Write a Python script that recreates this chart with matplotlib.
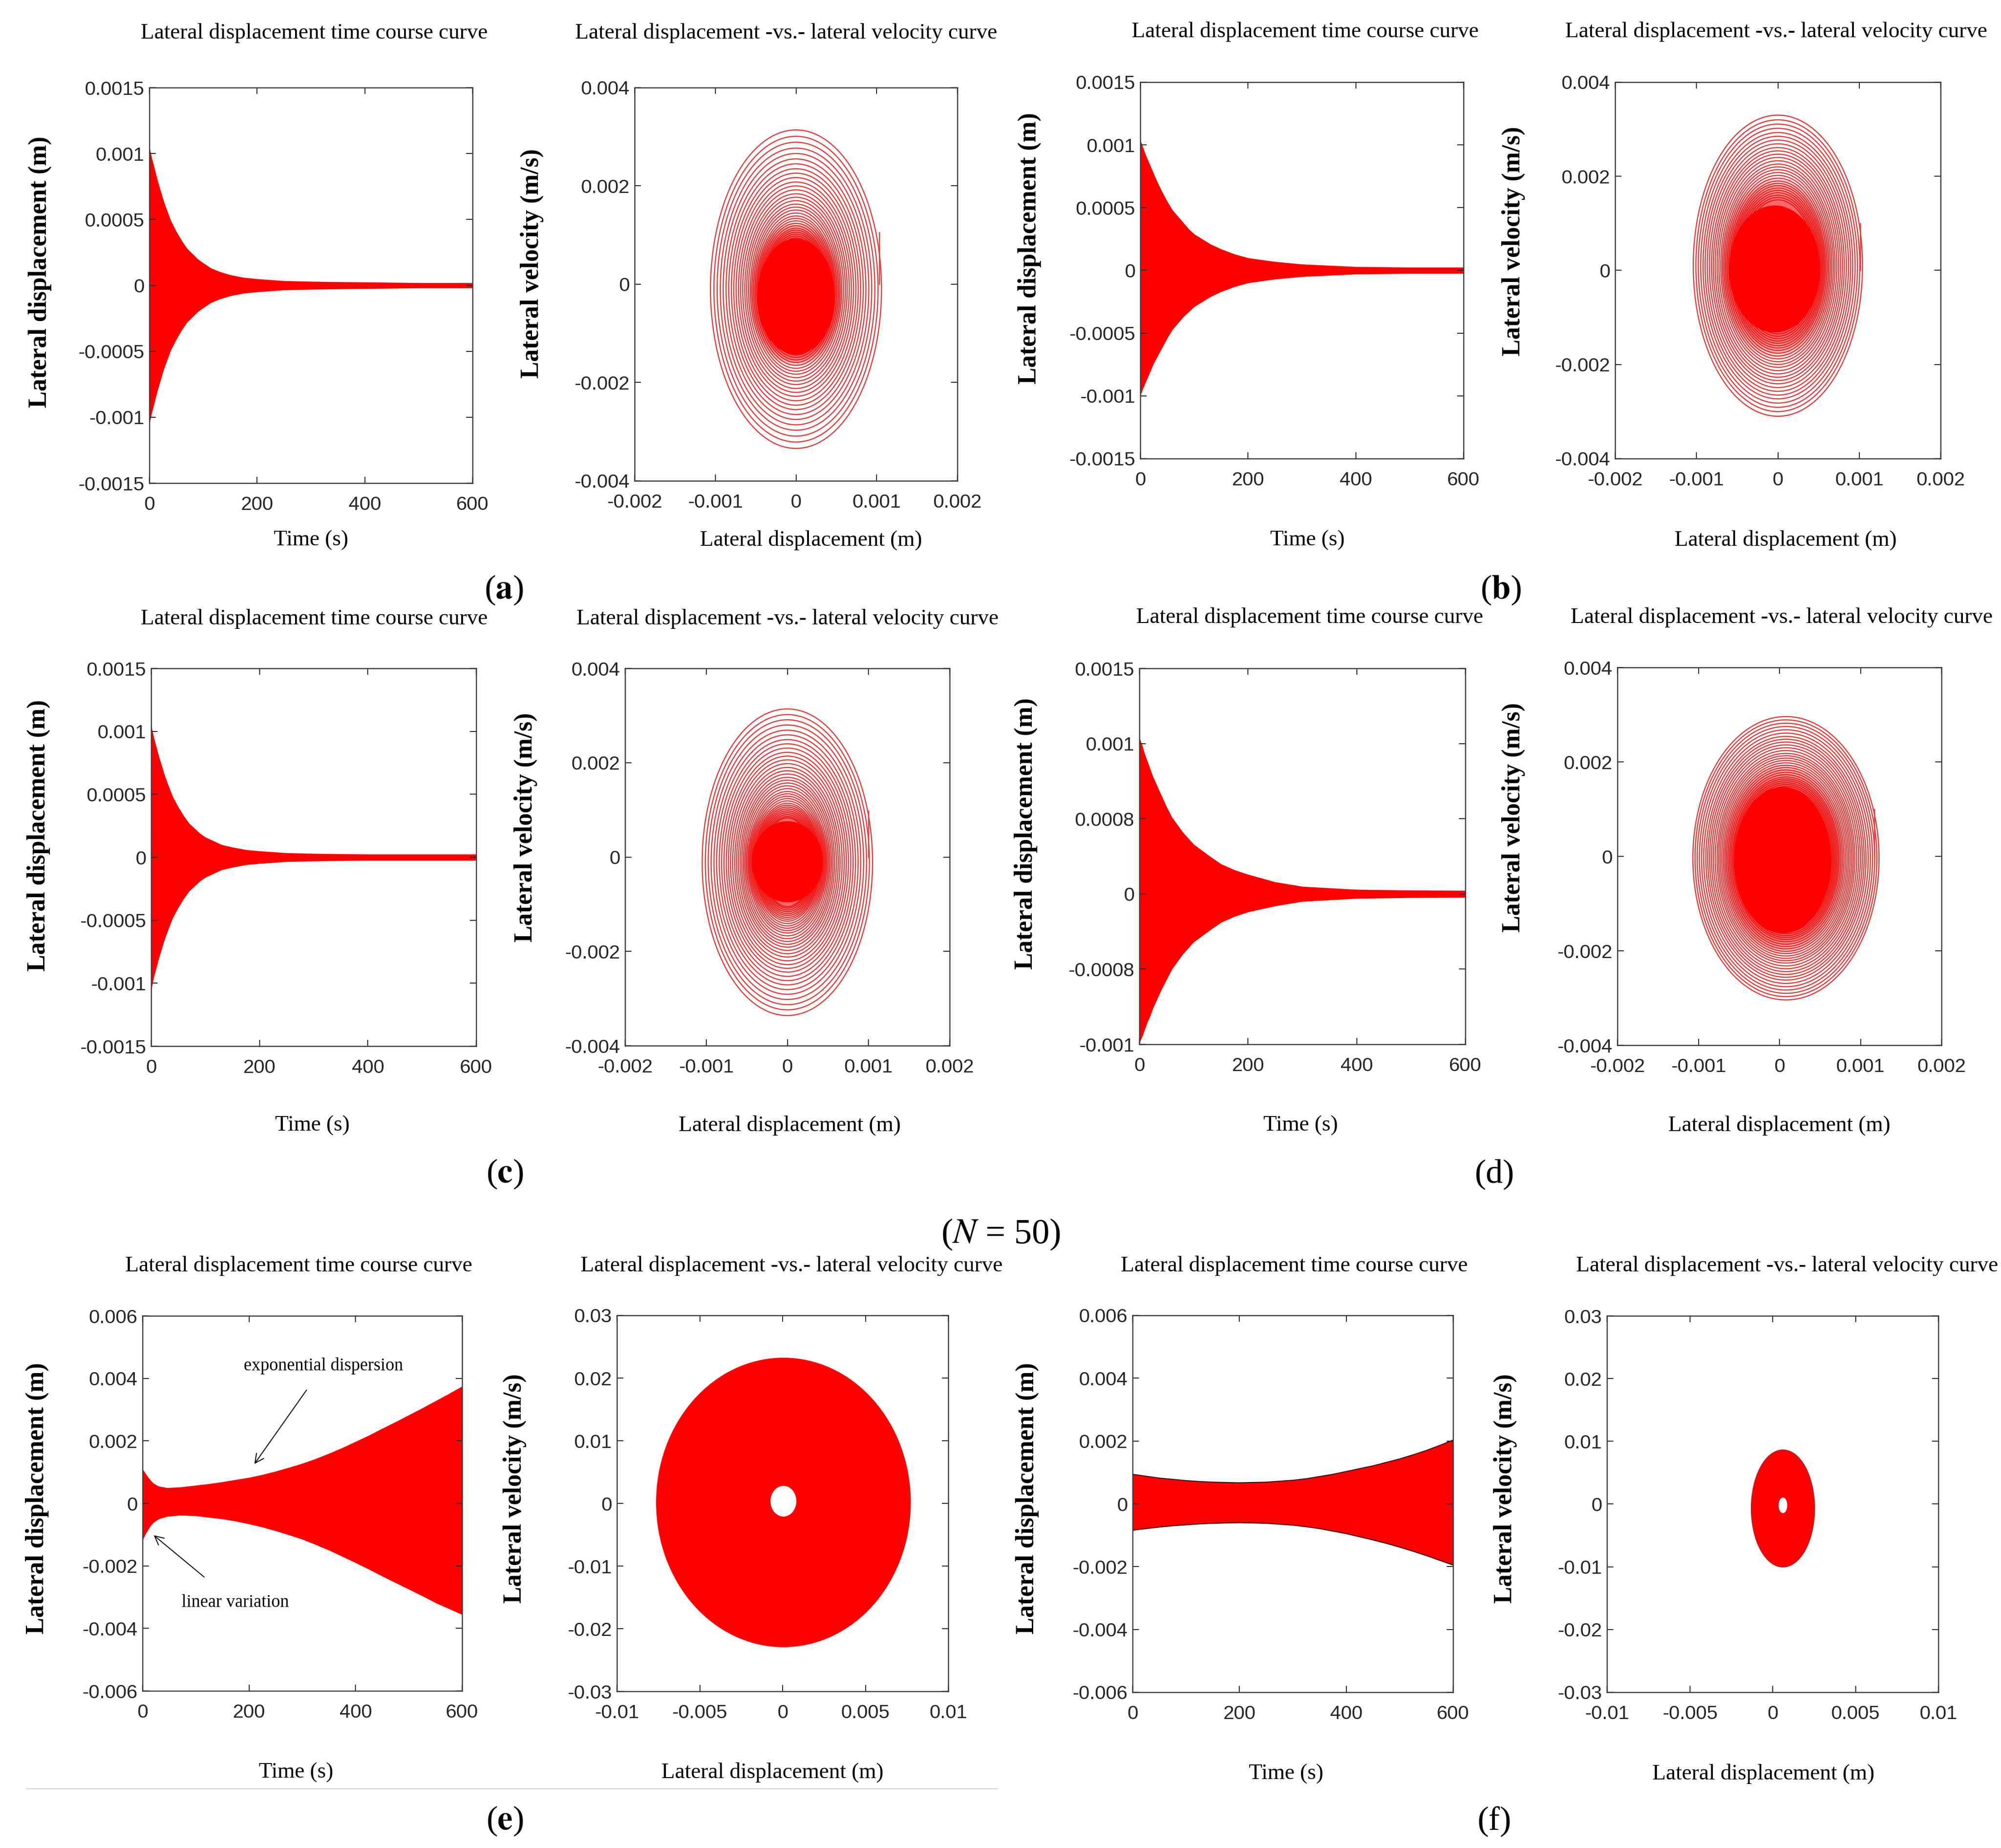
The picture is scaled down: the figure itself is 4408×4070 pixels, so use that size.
import matplotlib
matplotlib.use("Agg")
import matplotlib.pyplot as plt
from matplotlib.patches import Ellipse

plt.rcParams['mathtext.fontset'] = 'stix'

# ---- data ----
t_env = [0, 5, 10, 15, 20, 25, 30, 40, 50, 60, 70, 80, 90, 100, 115, 130, 150, 175, 200,
         250, 300, 350, 400, 500, 600]

a_top = [0.00105, 0.00096, 0.00088, 0.0008, 0.00073, 0.00066, 0.0006, 0.00049, 0.00041, 0.00034,
         0.00028, 0.00024, 0.0002, 0.00017, 0.00013, 0.000105, 0.00008, 0.00006, 0.00005,
         0.000035, 0.00003, 0.000027, 0.000025, 0.00002, 0.00002]
a_bot = [-0.00105, -0.00096, -0.00088, -0.0008, -0.00073, -0.00066, -0.0006, -0.00049, -0.00041, -0.00034,
         -0.00028, -0.00024, -0.0002, -0.00017, -0.00013, -0.000105, -0.00008, -0.00006, -0.00005,
         -0.000035, -0.00003, -0.000027, -0.000025, -0.00002, -0.00002]
b_top = [0.00104, 0.00098, 0.00092, 0.00087, 0.00082, 0.00077, 0.00072, 0.00063, 0.00055, 0.00048,
         0.00043, 0.00038, 0.00033, 0.00029, 0.00025, 0.00021, 0.00017, 0.00013, 0.0001,
         0.00007, 0.00005, 0.00004, 0.00003, 0.000025, 0.000025]
b_bot = [-0.001, -0.00094, -0.00089, -0.00084, -0.00079, -0.00074, -0.0007, -0.00062, -0.00054, -0.00047,
         -0.00042, -0.00037, -0.00033, -0.00029, -0.00025, -0.00021, -0.00017, -0.00013, -0.0001,
         -0.00007, -0.00005, -0.00004, -0.00003, -0.000025, -0.000025]
c_top = [0.00105, 0.00095, 0.00087, 0.00079, 0.00072, 0.00065, 0.00059, 0.00048, 0.0004, 0.00033,
         0.00027, 0.00023, 0.00019, 0.00016, 0.00013, 0.0001, 0.00008, 0.00006, 0.00005,
         0.000035, 0.00003, 0.000027, 0.000025, 0.000025, 0.000025]
c_bot = [-0.00106, -0.00095, -0.00087, -0.00079, -0.00072, -0.00065, -0.00059, -0.00048, -0.0004, -0.00033,
         -0.00027, -0.00023, -0.00019, -0.00016, -0.00013, -0.0001, -0.00008, -0.00006, -0.00005,
         -0.000035, -0.00003, -0.000027, -0.000025, -0.000025, -0.000025]
d_top = [0.00104, 0.00099, 0.00093, 0.00088, 0.00083, 0.00078, 0.00074, 0.00066, 0.00058, 0.00051,
         0.00046, 0.00041, 0.00037, 0.00033, 0.00029, 0.00025, 0.0002, 0.00016, 0.00013,
         0.00008, 0.00005, 0.00004, 0.00003, 0.000025, 0.000023]
d_bot = [-0.00099, -0.00095, -0.0009, -0.00085, -0.00081, -0.00076, -0.00072, -0.00064, -0.00057, -0.0005,
         -0.00045, -0.0004, -0.00036, -0.00032, -0.00028, -0.00024, -0.00019, -0.00015, -0.00012,
         -0.00008, -0.00005, -0.00004, -0.00003, -0.000025, -0.000023]

t_e = [0, 5, 10, 15, 20, 30, 46, 70, 100, 125, 150, 175, 200, 225, 250, 275, 300, 325, 350, 375,
       400, 425, 450, 475, 500, 525, 550, 575, 600]
e_top = [0.0011, 0.00097, 0.00085, 0.00074, 0.00065, 0.00055, 0.0005, 0.00052, 0.00058, 0.00063,
         0.00069, 0.00076, 0.00083, 0.00092, 0.00103, 0.00115, 0.00128, 0.00143, 0.0016, 0.00178,
         0.00198, 0.00218, 0.0024, 0.00261, 0.00283, 0.00305, 0.00328, 0.00351, 0.00375]
e_bot = [-0.00118, -0.001, -0.00085, -0.00072, -0.00062, -0.0005, -0.00042, -0.00038, -0.0004, -0.00045,
         -0.0005, -0.00057, -0.00066, -0.00076, -0.00088, -0.00101, -0.00115, -0.00132, -0.0015, -0.0017,
         -0.0019, -0.00211, -0.00233, -0.00254, -0.00275, -0.00296, -0.00318, -0.00337, -0.00356]

t_f = [0, 25, 50, 75, 100, 125, 150, 175, 200, 225, 250, 275, 300, 325, 350, 375, 400, 425,
       450, 475, 500, 525, 550, 575, 600]
f_top = [0.00094, 0.00088, 0.00082, 0.00078, 0.00074, 0.00071, 0.00069, 0.00068, 0.00067, 0.00068,
         0.00069, 0.00072, 0.00075, 0.0008, 0.00087, 0.00094, 0.00103, 0.00112, 0.00121, 0.00132,
         0.00143, 0.00156, 0.0017, 0.00186, 0.00203]
f_bot = [-0.00084, -0.00079, -0.00074, -0.0007, -0.00067, -0.00064, -0.00062, -0.00061, -0.0006, -0.00061,
         -0.00062, -0.00065, -0.00068, -0.00073, -0.00079, -0.00087, -0.00095, -0.00105, -0.00115, -0.00126,
         -0.00138, -0.00151, -0.00165, -0.0018, -0.00195]

# phase-plane loops: half height (velocity amplitude) of each visible loop
rings_a = [0.00324, 0.00311, 0.00299, 0.00287, 0.00276, 0.00265, 0.00255, 0.00245, 0.00236, 0.00227,
           0.00218, 0.0021, 0.00202, 0.00194, 0.00187, 0.0018, 0.00173, 0.00167, 0.00161, 0.00155,
           0.00149, 0.00144, 0.00139, 0.00134, 0.00129, 0.00124, 0.0012, 0.00116, 0.00112, 0.00108,
           0.00104, 0.001]
rings_b = [0.0032, 0.0031, 0.00301, 0.00292, 0.00283, 0.00275, 0.00267, 0.00259, 0.00251, 0.00244,
           0.00237, 0.0023, 0.00223, 0.00216, 0.0021, 0.00204, 0.00198, 0.00192, 0.00186, 0.0018,
           0.00175, 0.0017, 0.00165, 0.0016, 0.00155, 0.0015, 0.00145, 0.0014]
rings_c = [0.00325, 0.00313, 0.00302, 0.00291, 0.0028, 0.0027, 0.0026, 0.00251, 0.00242, 0.00233,
           0.00225, 0.00217, 0.00209, 0.00201, 0.00194, 0.00187, 0.0018, 0.00174, 0.00168, 0.00162,
           0.00156, 0.0015, 0.00145, 0.0014, 0.00135, 0.0013, 0.00125, 0.00121, 0.00117, 0.00113,
           0.00109, 0.00105, 0.00101, 0.00097, 0.00094]
rings_d = [0.0030, 0.00293, 0.00286, 0.00279, 0.00272, 0.00265, 0.00258, 0.00252, 0.00246, 0.0024,
           0.00234, 0.00228, 0.00222, 0.00217, 0.00212, 0.00207, 0.00202, 0.00197, 0.00192, 0.00187,
           0.00182, 0.00177, 0.00172, 0.00168, 0.00164, 0.0016, 0.00156, 0.00152, 0.00148, 0.00144, 0.0014]
ring_ratio = {'a': 0.327, 'b': 0.325, 'c': 0.323, 'd': 0.383}       # x half-width / v half-height
ring_center = {'a': (0.0, -0.0001), 'b': (0.0, 0.0001), 'c': (0.0, -0.00011), 'd': (0.00008, -0.00004)}
# dense core: (x0, v0, half-width, half-height) and the lighter haze around it
core = {'a': (0.0, -0.00025, 0.00048, 0.00118), 'b': (-0.00004, 0.00003, 0.00056, 0.00135),
        'c': (0.0, -0.0001, 0.00044, 0.00086), 'd': (0.00004, -0.00008, 0.0006, 0.00155)}
haze = {'a': (0.0, -0.0002, 0.00058, 0.00145), 'b': (-0.00002, 0.00005, 0.00068, 0.0019),
        'c': (0.0, -0.0001, 0.00055, 0.0012), 'd': (0.00005, -0.00006, 0.00075, 0.002)}
# initial vertical segment of the trajectory
start_x = {'a': 0.00103, 'b': 0.00101, 'c': 0.001, 'd': 0.00117}
start_v = {'a': 0.00105, 'b': 0.001, 'c': 0.00098, 'd': 0.001}

# filled discs for (e) and (f): (x0, v0, half-width, half-height)
disc_e = (0.00005, 0.00015, 0.00765, 0.0230)
hole_e = (0.00005, 0.00035, 0.0008, 0.0025)
disc_f = (0.00062, -0.0007, 0.0019, 0.0093)
hole_f = (0.00062, -0.0002, 0.00028, 0.0013)

ticks_small_t = [-0.0015, -0.001, -0.0005, 0, 0.0005, 0.001, 0.0015]
labels_small_t = ['-0.0015', '-0.001', '-0.0005', '0', '0.0005', '0.001', '0.0015']
ticks_d_t = [-0.001, -0.0005, 0, 0.0005, 0.001, 0.0015]
labels_d_t = ['-0.001', '-0.0008', '0', '0.0008', '0.001', '0.0015']
ticks_big_t = [-0.006, -0.004, -0.002, 0, 0.002, 0.004, 0.006]
labels_big_t = ['-0.006', '-0.004', '-0.002', '0', '0.002', '0.004', '0.006']
ticks_time = [0, 200, 400, 600]
ticks_px = [-0.002, -0.001, 0, 0.001, 0.002]
labels_px = ['-0.002', '-0.001', '0', '0.001', '0.002']
ticks_pv = [-0.004, -0.002, 0, 0.002, 0.004]
labels_pv = ['-0.004', '-0.002', '0', '0.002', '0.004']
ticks_bx = [-0.01, -0.005, 0, 0.005, 0.01]
labels_bx = ['-0.01', '-0.005', '0', '0.005', '0.01']
ticks_bv = [-0.03, -0.02, -0.01, 0, 0.01, 0.02, 0.03]
labels_bv = ['-0.03', '-0.02', '-0.01', '0', '0.01', '0.02', '0.03']

# ---- layout (pixels of the 4408 x 4070 canvas) ----
W, H = 4408, 4070
fig = plt.figure(figsize=(W / 100, H / 100), dpi=100)
SERIF = 'Liberation Serif'
SANS = 'Liberation Sans'
RED = '#ff0000'
RING = '#e23a3a'


def make_ax(l, t, r, b):
    ax = fig.add_axes([l / W, 1 - b / H, (r - l) / W, (b - t) / H])
    for s in ax.spines.values():
        s.set_color('#3a3a3a')
        s.set_linewidth(1.8)
    ax.tick_params(direction='in', top=True, right=True, length=10, width=1.5,
                   colors='#262626', labelsize=31)
    ax.tick_params(axis='x', pad=20)
    ax.tick_params(axis='y', pad=8)
    return ax


def ftext(x, y, s, size=35, rot=0, **kw):
    fig.text(x / W, 1 - y / H, s, ha='center', va='center', fontsize=size,
             rotation=rot, family=SERIF, **kw)


def set_ticks(ax, xt, xl, yt, yl):
    ax.set_xticks(xt)
    ax.set_xticklabels(xl, family=SANS)
    ax.set_yticks(yt)
    ax.set_yticklabels(yl, family=SANS)


def time_panel(box, t, top, bot, ylim, yt, yl, outline=False):
    ax = make_ax(*box)
    ax.fill_between(t, bot, top, color=RED, lw=0)
    if outline:
        ax.plot(t, top, color='#3a0000', lw=1.5)
        ax.plot(t, bot, color='#3a0000', lw=1.5)
    ax.set_xlim(0, 600)
    ax.set_ylim(*ylim)
    set_ticks(ax, ticks_time, [str(v) for v in ticks_time], yt, yl)
    return ax


def phase_panel(box, key, rings):
    ax = make_ax(*box)
    x0, v0 = ring_center[key]
    for h in rings:
        ax.add_patch(Ellipse((x0, v0), 2 * h * ring_ratio[key], 2 * h, fill=False,
                             edgecolor=RING, lw=1.8, zorder=2))
    # soft transition from the open loops into the saturated centre
    hx, hv, hw, hh = haze[key]
    cx, cv, cw, ch = core[key]
    for k in range(5):
        f = k / 5
        ax.add_patch(Ellipse((hx + (cx - hx) * f, hv + (cv - hv) * f),
                             2 * (hw + (cw - hw) * f), 2 * (hh + (ch - hh) * f),
                             color=RED, alpha=0.16, lw=0, zorder=3))
    ax.add_patch(Ellipse((cx, cv), 2 * cw, 2 * ch, color=RED, lw=0, zorder=4))
    ax.plot([start_x[key], start_x[key]], [start_v[key], 0.0], color=RING, lw=1.8)
    ax.set_xlim(-0.002, 0.002)
    ax.set_ylim(-0.004, 0.004)
    set_ticks(ax, ticks_px, labels_px, ticks_pv, labels_pv)
    return ax


def disc_panel(box, disc, hole, edge):
    ax = make_ax(*box)
    ax.add_patch(Ellipse(disc[:2], 2 * disc[2], 2 * disc[3], facecolor=RED, edgecolor=edge, lw=2))
    ax.add_patch(Ellipse(hole[:2], 2 * hole[2], 2 * hole[3], facecolor='white', edgecolor=RED, lw=1))
    ax.set_xlim(-0.01, 0.01)
    ax.set_ylim(-0.03, 0.03)
    set_ticks(ax, ticks_bx, labels_bx, ticks_bv, labels_bv)
    return ax


TT = 'Lateral displacement time course curve'
PT = 'Lateral displacement -vs.- lateral velocity curve'
YD = 'Lateral displacement (m)'
YV = 'Lateral velocity (m/s)'
XT = 'Time (s)'
XD = 'Lateral displacement (m)'

# row 1
time_panel((329, 193, 1041, 1064), t_env, a_top, a_bot, (-0.0015, 0.0015), ticks_small_t, labels_small_t)
phase_panel((1398, 193, 2109, 1059), 'a', rings_a)
time_panel((2512, 181, 3224, 1010), t_env, b_top, b_bot, (-0.0015, 0.0015), ticks_small_t, labels_small_t)
phase_panel((3558, 181, 4275, 1010), 'b', rings_b)
# row 2
time_panel((333, 1472, 1049, 2304), t_env, c_top, c_bot, (-0.0015, 0.0015), ticks_small_t, labels_small_t)
phase_panel((1377, 1472, 2092, 2303), 'c', rings_c)
time_panel((2510, 1472, 3228, 2300), t_env, d_top, d_bot, (-0.001, 0.0015), ticks_d_t, labels_d_t)
phase_panel((3563, 1470, 4277, 2302), 'd', rings_d)
# row 3
ax_e = time_panel((314, 2898, 1018, 3724), t_e, e_top, e_bot, (-0.006, 0.006), ticks_big_t, labels_big_t)
disc_panel((1359, 2897, 2089, 3725), disc_e, hole_e, RED)
time_panel((2495, 2897, 3201, 3727), t_f, f_top, f_bot, (-0.006, 0.006), ticks_big_t, labels_big_t, outline=True)
disc_panel((3540, 2898, 4270, 3727), disc_f, hole_f, '#c81818')

ax_e.annotate('exponential dispersion', xy=(210, 0.00126), xytext=(340, 0.0044),
              ha='center', va='center', fontsize=28, family=SERIF,
              arrowprops=dict(arrowstyle='->', color='black', lw=1.5, mutation_scale=35,
                              shrinkA=28, shrinkB=0))
ax_e.annotate('linear variation', xy=(21, -0.00102), xytext=(174, -0.00318),
              ha='center', va='center', fontsize=28, family=SERIF,
              arrowprops=dict(arrowstyle='->', color='black', lw=1.5, mutation_scale=35,
                              shrinkA=40, shrinkB=0))

# titles
for x, y, s in [(692, 73, TT), (1732, 73, PT), (2875, 70, TT), (3913, 70, PT),
                (692, 1363, TT), (1735, 1363, PT), (2885, 1360, TT), (3925, 1360, PT),
                (658, 2788, TT), (1744, 2788, PT), (2851, 2788, TT), (3937, 2788, PT)]:
    ftext(x, y, s, size=35)

# x labels
for x, y, s in [(685, 1190, XT), (1787, 1190, XD), (2880, 1190, XT), (3934, 1190, XD),
                (688, 2479, XT), (1740, 2479, XD), (2865, 2479, XT), (3920, 2479, XD),
                (652, 3904, XT), (1702, 3904, XD), (2833, 3907, XT), (3885, 3907, XD)]:
    ftext(x, y, s, size=35)

# y labels
for x, y, s in [(88, 599, YD), (1172, 580, YV), (2268, 547, YD), (3334, 531, YV),
                (85, 1840, YD), (1158, 1822, YV), (2260, 1836, YD), (3334, 1800, YV),
                (82, 3300, YD), (1134, 3278, YV), (2263, 3300, YD), (3316, 3278, YV)]:
    ftext(x, y, s, size=40, rot=90, fontweight='bold')

# panel letters
for x, y, s in [(1110, 1300, r'($\mathbf{a}$)'), (3306, 1300, r'($\mathbf{b}$)'),
                (1112, 2586, r'($\mathbf{c}$)'), (3292, 2586, '(d)'),
                (1112, 4011, r'($\mathbf{e}$)'), (3292, 4011, '(f)')]:
    ftext(x, y, s, size=54)

ftext(2204, 2719, r'($N$ = 50)', size=56)

fig.add_artist(plt.Line2D([59 / W, 2196 / W], [1 - 3939 / H, 1 - 3939 / H],
                          color='#d8d8d8', lw=2))

fig.savefig('out.png', dpi=100, facecolor='white')
